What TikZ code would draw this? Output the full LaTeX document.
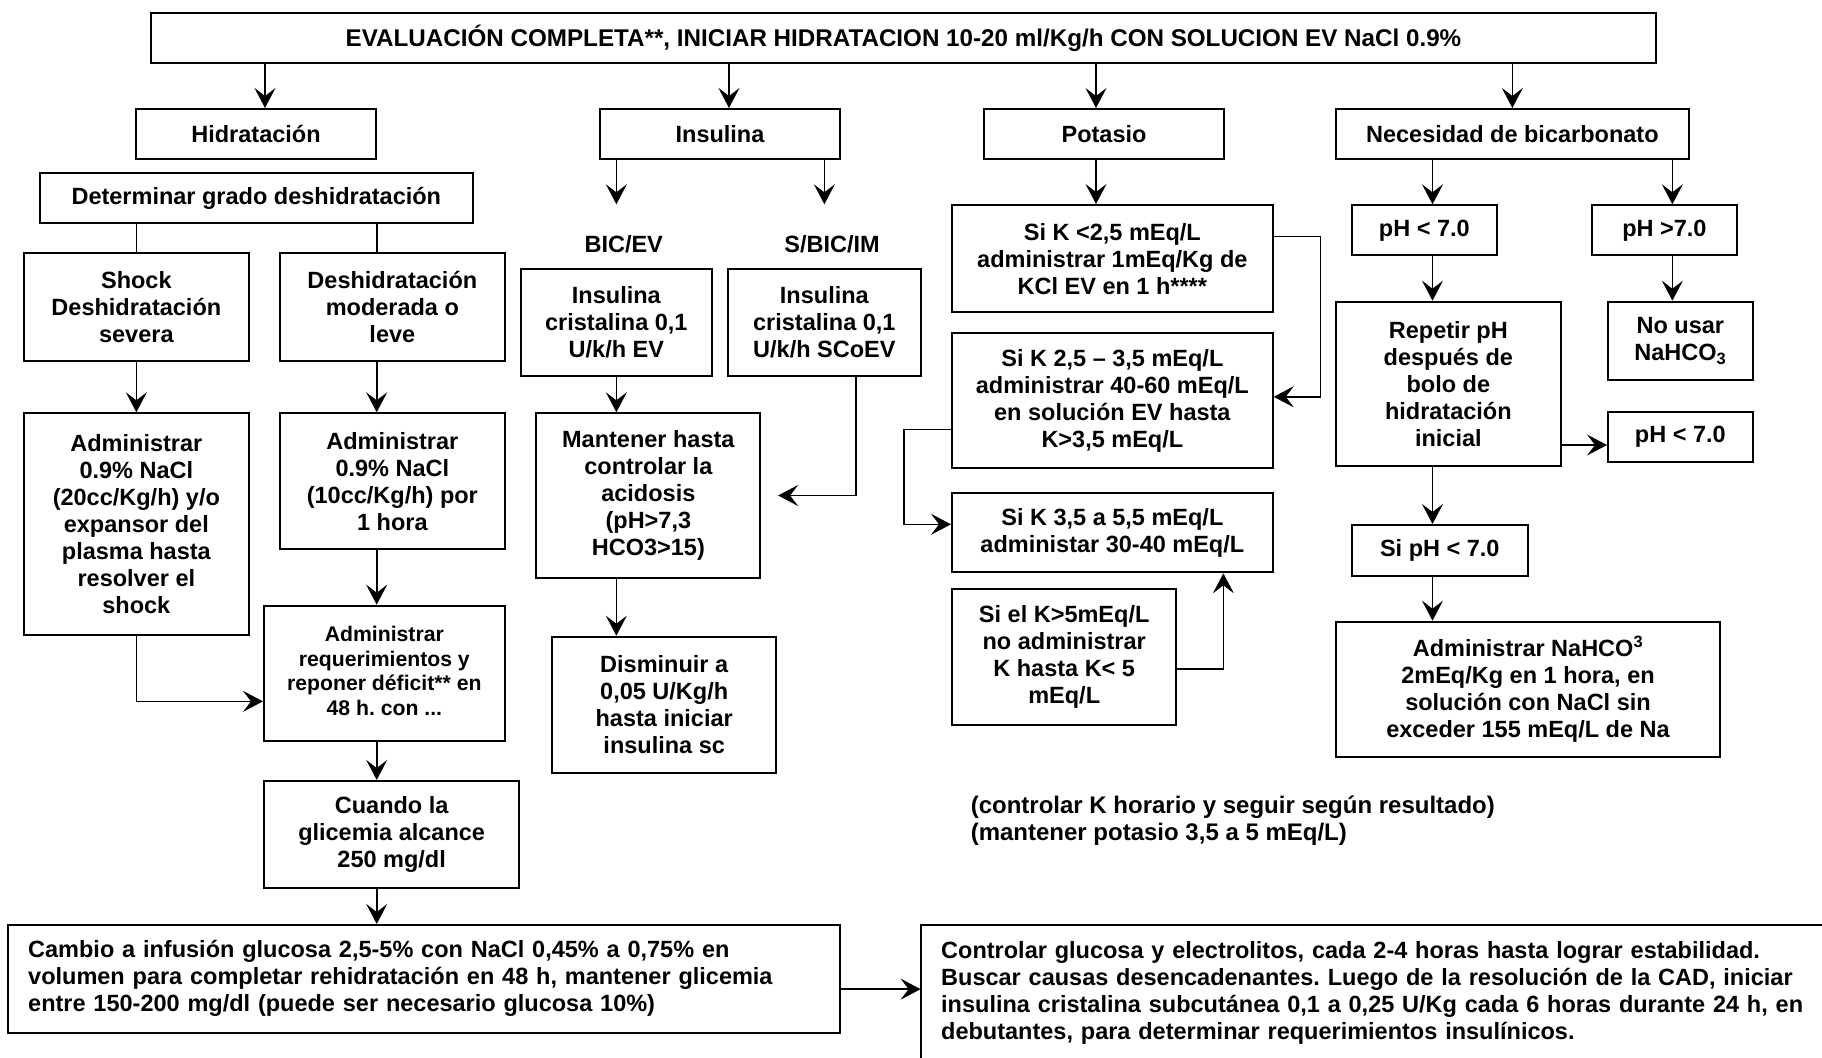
\documentclass[tikz,border=0pt]{standalone}
\usepackage{fontspec}
\setmainfont{Liberation Sans}
\usetikzlibrary{arrows.meta,calc}
\frenchspacing

\newcommand\mainsize{\fontsize{23.5}{27}\selectfont\bfseries}
\newcommand\titlesize{\fontsize{24.2}{27}\selectfont\bfseries}
\newcommand\notesize{\fontsize{24}{27}\selectfont\bfseries}
\newcommand\smallsize{\fontsize{21.2}{24.5}\selectfont\bfseries}

\begin{document}
\begin{tikzpicture}[x=1pt,y=-1pt,
  box/.style={draw, line width=2pt, inner sep=0pt, align=center, font=\mainsize},
  rect/.style n args={4}{minimum width={(#3)-(#1)}, minimum height={(#4)-(#2)},
      at={({((#1)+(#3))/2},{((#2)+(#4))/2})}},
  link/.style={line width=1.6pt},
  arr/.style={link, -{Stealth[length=20pt,width=21pt,inset=8pt]}},
  tag/.style={inner sep=0pt, font=\mainsize},
]
\useasboundingbox (0,0) rectangle (1822,1057);
\clip (0,0) rectangle (1822,1057);
\fill[white] (0,0) rectangle (1822,1057);

% guide columns for connectors
\coordinate (xH) at (376.7,0);
\coordinate (xB) at (1432.5,0);
\coordinate (xR) at (1320.4,0);
\coordinate (xL) at (904,0);

% header
\node[box, font=\titlesize, rect={151}{13}{1656}{63}] (top) {EVALUACIÓN COMPLETA**, INICIAR HIDRATACION 10-20 ml/Kg/h CON SOLUCION EV NaCl 0.9\%};

% branch titles
\node[box, rect={136}{109}{376}{159}] (hid) {Hidratación};
\node[box, rect={600}{109}{840}{159}] (ins) {Insulina};
\node[box, rect={984}{109}{1224}{159}] (pot) {Potasio};
\node[box, rect={1336}{109}{1688.7}{159}] (bic) {Necesidad de bicarbonato};

% hydration branch
\node[box, rect={40}{173.3}{472.7}{223.3}] (det) {Determinar grado deshidratación};
\node[box, rect={24}{253.3}{248.7}{360.7}] (shock) {Shock\\Deshidratación\\severa};
\node[box, rect={280}{253.3}{504.7}{360.7}] (desh) {Deshidratación\\moderada o\\leve};
\node[box, rect={24}{413.3}{248.7}{635.3}] (adm20) {Administrar\\0.9\% NaCl\\(20cc/Kg/h) y/o\\expansor del\\plasma hasta\\resolver el\\shock};
\node[box, rect={280}{413.3}{504.7}{549}] (adm10) {Administrar\\0.9\% NaCl\\(10cc/Kg/h) por\\1 hora};
\node[box, font=\smallsize, rect={264}{605.7}{504.7}{741}] (req) {\raisebox{8pt}{\begin{tabular}{@{}c@{}}Administrar\\requerimientos y\\reponer déficit** en\\48 h. con ...\end{tabular}}};
\node[box, rect={264}{781}{519.3}{888.3}] (cuando) {Cuando la\\glicemia alcance\\250 mg/dl};
\node[box, align=left, inner xsep=20.6pt, text width=791.4pt, rect={7.6}{925}{840.2}{1032.7}] (cambio) {Cambio a infusión glucosa 2,5-5\% con NaCl 0,45\% a 0,75\% en\\volumen para completar rehidratación en 48 h, mantener glicemia\\entre 150-200 mg/dl (puede ser necesario glucosa 10\%)};
\node[box, anchor=north west, outer sep=0pt, align=left, text width=880pt, inner xsep=20.6pt, inner ysep=16.5pt] (ctrl) at (920.6,925) {Controlar glucosa y electrolitos, cada 2-4 horas hasta lograr estabilidad.\\Buscar causas desencadenantes. Luego de la resolución de la CAD, iniciar\\insulina cristalina subcutánea 0,1 a 0,25 U/Kg cada 6 horas durante 24 h, en\\debutantes, para determinar requerimientos insulínicos.};

% insulin branch
\node[tag, anchor=base] (lev) at (623.7,252.7) {BIC/EV};
\node[tag, anchor=base] (lsb) at (832,252.7) {S/BIC/IM};
\node[box, rect={521}{269.3}{711.7}{376}] (bicbox) {Insulina\\cristalina 0,1\\U/k/h EV};
\node[box, rect={728}{269.3}{920.7}{376}] (sbic) {Insulina\\cristalina 0,1\\U/k/h SCoEV};
\node[box, rect={536.3}{413.3}{760.4}{577.7}] (mant) {Mantener hasta\\controlar la\\acidosis\\(pH>7,3\\HCO3>15)};
\node[box, rect={552.1}{636.7}{776.3}{773.3}] (dism) {Disminuir a\\0,05 U/Kg/h\\hasta iniciar\\insulina sc};

% potassium branch
\node[box, rect={952}{205}{1272.7}{312.3}] (k1) {Si K <2,5 mEq/L\\administrar 1mEq/Kg de\\KCl EV en 1 h****};
\node[box, rect={952}{333.3}{1272.7}{468.3}] (k2) {Si K 2,5 – 3,5 mEq/L\\administrar 40-60 mEq/L\\en solución EV hasta\\K>3,5 mEq/L};
\node[box, rect={952}{493.3}{1272.7}{572.3}] (k3) {Si K 3,5 a 5,5 mEq/L\\administar 30-40 mEq/L};
\node[box, rect={952}{589.3}{1176.4}{725}] (k4) {Si el K>5mEq/L\\no administrar\\K hasta K< 5\\mEq/L};
\node[tag, font=\notesize, anchor=base west, align=left] (nota) at (970.6,840) {(controlar K horario y seguir según resultado)\\(mantener potasio 3,5 a 5 mEq/L)};

% bicarbonate branch
\node[box, rect={1352}{205.3}{1496.7}{255.3}] (ph1) {pH < 7.0};
\node[box, rect={1592}{205.3}{1736.7}{255.3}] (ph2) {pH >7.0};
\node[box, rect={1336}{301.7}{1560.7}{465.7}] (rep) {Repetir pH\\después de\\bolo de\\hidratación\\inicial};
\node[box, rect={1608}{301.7}{1752.7}{380}] (nouse) {No usar\\NaHCO\textsubscript{3}};
\node[box, rect={1608}{411.7}{1752.7}{461.7}] (ph3) {pH < 7.0};
\node[box, rect={1351.6}{525}{1528}{575.7}] (siph) {Si pH < 7.0};
\node[box, rect={1335.7}{621.7}{1720.3}{756.7}] (nahco) {Administrar NaHCO\textsuperscript{3}\\2mEq/Kg en 1 hora, en\\solución con NaCl sin\\exceder 155 mEq/L de Na};

% connectors from the header
\draw[arr] ([xshift=9pt]hid.north |- top.south) -- ([xshift=9pt]hid.north);
\draw[arr] ([xshift=9pt]ins.north |- top.south) -- ([xshift=9pt]ins.north);
\draw[arr] ([xshift=-8pt]pot.north |- top.south) -- ([xshift=-8pt]pot.north);
\draw[arr] (bic.north |- top.south) -- (bic.north);

% hydration connectors
\draw[link] (shock.north |- det.south) -- (shock.north);
\draw[link] (xH |- det.south) -- (xH |- desh.north);
\draw[arr] (shock.south) -- (adm20.north);
\draw[arr] (xH |- desh.south) -- (xH |- adm10.north);
\draw[arr] (xH |- adm10.south) -- (xH |- req.north);
\draw[arr] (adm20.south) |- ([yshift=-28pt]req.west);
\draw[arr] (xH |- req.south) -- (xH |- cuando.north);
\draw[arr] (xH |- cuando.south) -- (xH |- cambio.north);
\draw[arr] ([yshift=-10.3pt]cambio.east) -- ([yshift=-10.3pt]cambio.east -| ctrl.west);

% insulin connectors
\draw[arr] (ins.south -| bicbox.north) -- ([yshift=64pt]bicbox.north);
\draw[arr] (ins.south -| sbic.north) -- ([yshift=64pt]sbic.north);
\draw[arr] (bicbox.south) -- (bicbox.south |- mant.north);
\draw[arr, shorten >=16.7pt] ([xshift=31.7pt]sbic.south) |- (mant.east);
\draw[arr] (bicbox.south |- mant.south) -- (bicbox.south |- dism.north);

% potassium connectors
\draw[arr] ([xshift=-8pt]pot.south) -- ([xshift=-8pt]pot.south |- k1.north);
\draw[arr] ([yshift=22pt]k1.east) -| ([yshift=4pt]k2.east -| xR) -- ([yshift=4pt]k2.east);
\draw[arr] ([yshift=-28.5pt]k2.west) -| ([yshift=8.5pt]k3.west -| xL) -- ([yshift=8.5pt]k3.west);
\draw[arr] ([yshift=-11.8pt]k4.east) -| ([xshift=111pt]k3.south);

% bicarbonate connectors
\draw[arr] (xB |- bic.south) -- (xB |- ph1.north);
\draw[arr] ([xshift=8pt]ph2.north |- bic.south) -- ([xshift=8pt]ph2.north);
\draw[arr] (xB |- ph1.south) -- (xB |- rep.north);
\draw[arr] ([xshift=-8pt]nouse.north |- ph2.south) -- ([xshift=-8pt]nouse.north);
\draw[arr] ([yshift=-8.3pt]ph3.west -| rep.east) -- ([yshift=-8.3pt]ph3.west);
\draw[arr] (xB |- rep.south) -- (xB |- siph.north);
\draw[arr] (xB |- siph.south) -- (xB |- nahco.north);
\end{tikzpicture}
\end{document}
